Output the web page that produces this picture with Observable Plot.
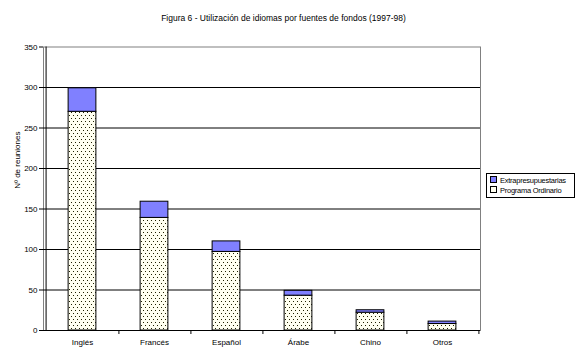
<!DOCTYPE html>
<html>
<head>
<meta charset="utf-8">
<script src="https://cdn.jsdelivr.net/npm/d3@7"></script>
<script src="https://cdn.jsdelivr.net/npm/@observablehq/plot@0.6"></script>
<style>
  body { margin: 0; background: #fff; font-family: "Liberation Sans", Arial, sans-serif; }
  #wrap { position: relative; width: 577px; height: 357px; overflow: hidden; }
  #title { height: 30px; box-sizing: border-box; padding-top: 13px; text-align: center; font-size: 8.5px; padding-right: 10px; }
  #legend { position: absolute; left: 486px; top: 173px; width: 89px; height: 25px; border: 1px solid #000; font-size: 7.5px; letter-spacing: -0.25px; box-sizing: border-box; padding: 2px 0 0 3px; background: #fff; }
  #legend .it { height: 10px; line-height: 10px; white-space: nowrap; }
  #legend .sw { display: inline-block; width: 5px; height: 5px; border: 1px solid #000; margin-right: 3px; vertical-align: 0px; }
</style>
</head>
<body>
<div id="wrap">
  <div id="title">Figura 6 - Utilización de idiomas por fuentes de fondos (1997-98)</div>
  <div id="chart"></div>
  <div id="legend"></div>
</div>
<script>
const categories = ["Inglés", "Francés", "Español", "Árabe", "Chino", "Otros"];
const seriesNames = ["Programa Ordinario", "Extrapresupuestarias"];
const ordinario = [270, 139, 97, 43, 22, 8];
const extrapresupuestarias = [29, 20, 13, 6, 3, 3];
const yTicks = [0, 50, 100, 150, 200, 250, 300, 350];
const yLabel = "Nº de reuniones";

const seriesColors = ["url(#dots)", "#8080FF"];

const data = [];
categories.forEach((c, i) => data.push({cat: c, series: seriesNames[0], value: ordinario[i]}));
categories.forEach((c, i) => data.push({cat: c, series: seriesNames[1], value: extrapresupuestarias[i]}));

const W = 577, H = 327;
const mL = 43, mR = 97, mT = 16.5, mB = 27;
const step = (W - mL - mR) / categories.length;
const barW = 28.6;
const inset = (step - barW) / 2;

const chart = Plot.plot({
  width: W, height: H,
  marginLeft: mL, marginRight: mR, marginTop: mT, marginBottom: mB,
  style: {fontFamily: "Liberation Sans, Arial, sans-serif", fontSize: "8px", background: "white", color: "black"},
  x: {domain: categories, padding: 0, label: null},
  y: {domain: [0, 350], label: null},
  color: {domain: seriesNames, range: seriesColors},
  marks: [
    Plot.frame({stroke: "#808080"}),
    Plot.ruleY(yTicks.filter(d => d > 0 && d < 350), {stroke: "black"}),
    Plot.barY(data, Plot.stackY({x: "cat", y: "value", fill: "series", stroke: "black", strokeWidth: 1, insetLeft: inset, insetRight: inset})),
    Plot.ruleY([0], {stroke: "black"}),
    Plot.ruleX([categories[0]], {dx: -step / 2, stroke: "black"}),
    Plot.ruleX(categories, {dx: step / 2, stroke: "black", insetTop: H - mT - mB, insetBottom: -4}),
    Plot.axisY({ticks: yTicks, tickSize: 4, tickPadding: 2, label: null}),
    Plot.axisX({tickSize: 0, tickPadding: 9, label: null}),
    Plot.text([yLabel], {frameAnchor: "left", dx: -26, rotate: -90, text: d => d, fontSize: 8})
  ]
});

const svg = d3.select(chart);
const defs = svg.insert("defs", ":first-child");
const pat = defs.append("pattern").attr("id", "dots").attr("patternUnits", "userSpaceOnUse")
  .attr("width", 4).attr("height", 6);
pat.append("rect").attr("width", 4).attr("height", 6).attr("fill", "#FFFFF0");
pat.append("rect").attr("x", 1).attr("y", 1).attr("width", 1).attr("height", 1).attr("fill", "#202000");
pat.append("rect").attr("x", 3).attr("y", 4).attr("width", 1).attr("height", 1).attr("fill", "#202000");

document.getElementById("chart").appendChild(chart);

const legend = document.getElementById("legend");
[[seriesNames[1], "#8080FF"], [seriesNames[0], "#FFFFF0"]].forEach(([name, col]) => {
  const it = document.createElement("div");
  it.className = "it";
  const sw = document.createElement("span");
  sw.className = "sw";
  sw.style.background = col;
  it.appendChild(sw);
  it.appendChild(document.createTextNode(name));
  legend.appendChild(it);
});
</script>
</body>
</html>
